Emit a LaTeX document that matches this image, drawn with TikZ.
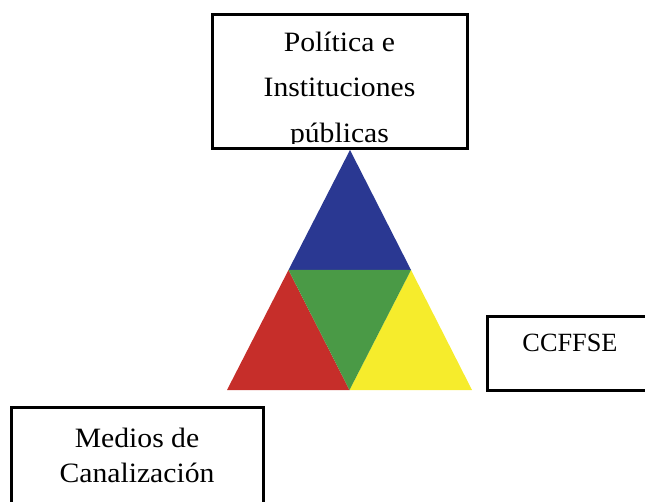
\documentclass[tikz,border=0pt]{standalone}
\usepackage{fontspec}
\setmainfont{Liberation Serif}
\newfontfamily\geo[FakeStretch=1.06]{Liberation Serif}
\definecolor{triblue}{RGB}{42,56,146}
\definecolor{trigreen}{RGB}{74,154,70}
\definecolor{trired}{RGB}{198,46,42}
\definecolor{triyellow}{RGB}{246,236,44}
\tikzset{
  box/.style={draw=black, line width=3pt, fill=none, rectangle, inner sep=0pt},
  lbl/.style={anchor=base, inner sep=0pt, font=\geo\fontsize{28}{28}\selectfont},
  lblt/.style={anchor=base, inner sep=0pt, font=\fontsize{26.3}{26.3}\selectfont},
}
\begin{document}
\begin{tikzpicture}[x=1pt,y=-1pt]
\useasboundingbox (0,0) rectangle (645,502);
\clip (0,0) rectangle (645,502);
% triangle
\coordinate (apex) at (350,150);
\coordinate (lm) at (288.5,270);
\coordinate (rm) at (411,270);
\coordinate (bl) at (227,390);
\coordinate (bm) at (349.5,390);
\coordinate (br) at (472,390);
\fill[triblue] (apex) -- (lm) -- (rm) -- cycle;
\fill[trired] (lm) -- (bl) -- (bm) -- cycle;
\fill[triyellow] (rm) -- (bm) -- (br) -- cycle;
\fill[trigreen] (lm) -- (rm) -- (bm) -- cycle;
% top box
\begin{scope}
\clip (213,16) rectangle (466,144);
\node[lbl] (t1) at (339.5,52) {Política e};
\node[lbl] (t2) at (339.5,97) {Instituciones};
\node[lbl] (t3) at (339.5,143) {públicas};
\end{scope}
\node[box, minimum width=255pt, minimum height=134pt] (topbox) at (339.5,82) {};
% CCFFSE box
\node[box, minimum width=173pt, minimum height=73pt] (ccbox) at (573.5,353.5) {};
\node[lblt] (cc) at (570,352) {CCFFSE};
% bottom box
\node[box, minimum width=252pt, minimum height=113pt] (botbox) at (137,463.5) {};
\node[lbl] (b1) at (137,447) {Medios de};
\node[lbl] (b2) at (137,482) {Canalización};
\end{tikzpicture}
\end{document}
